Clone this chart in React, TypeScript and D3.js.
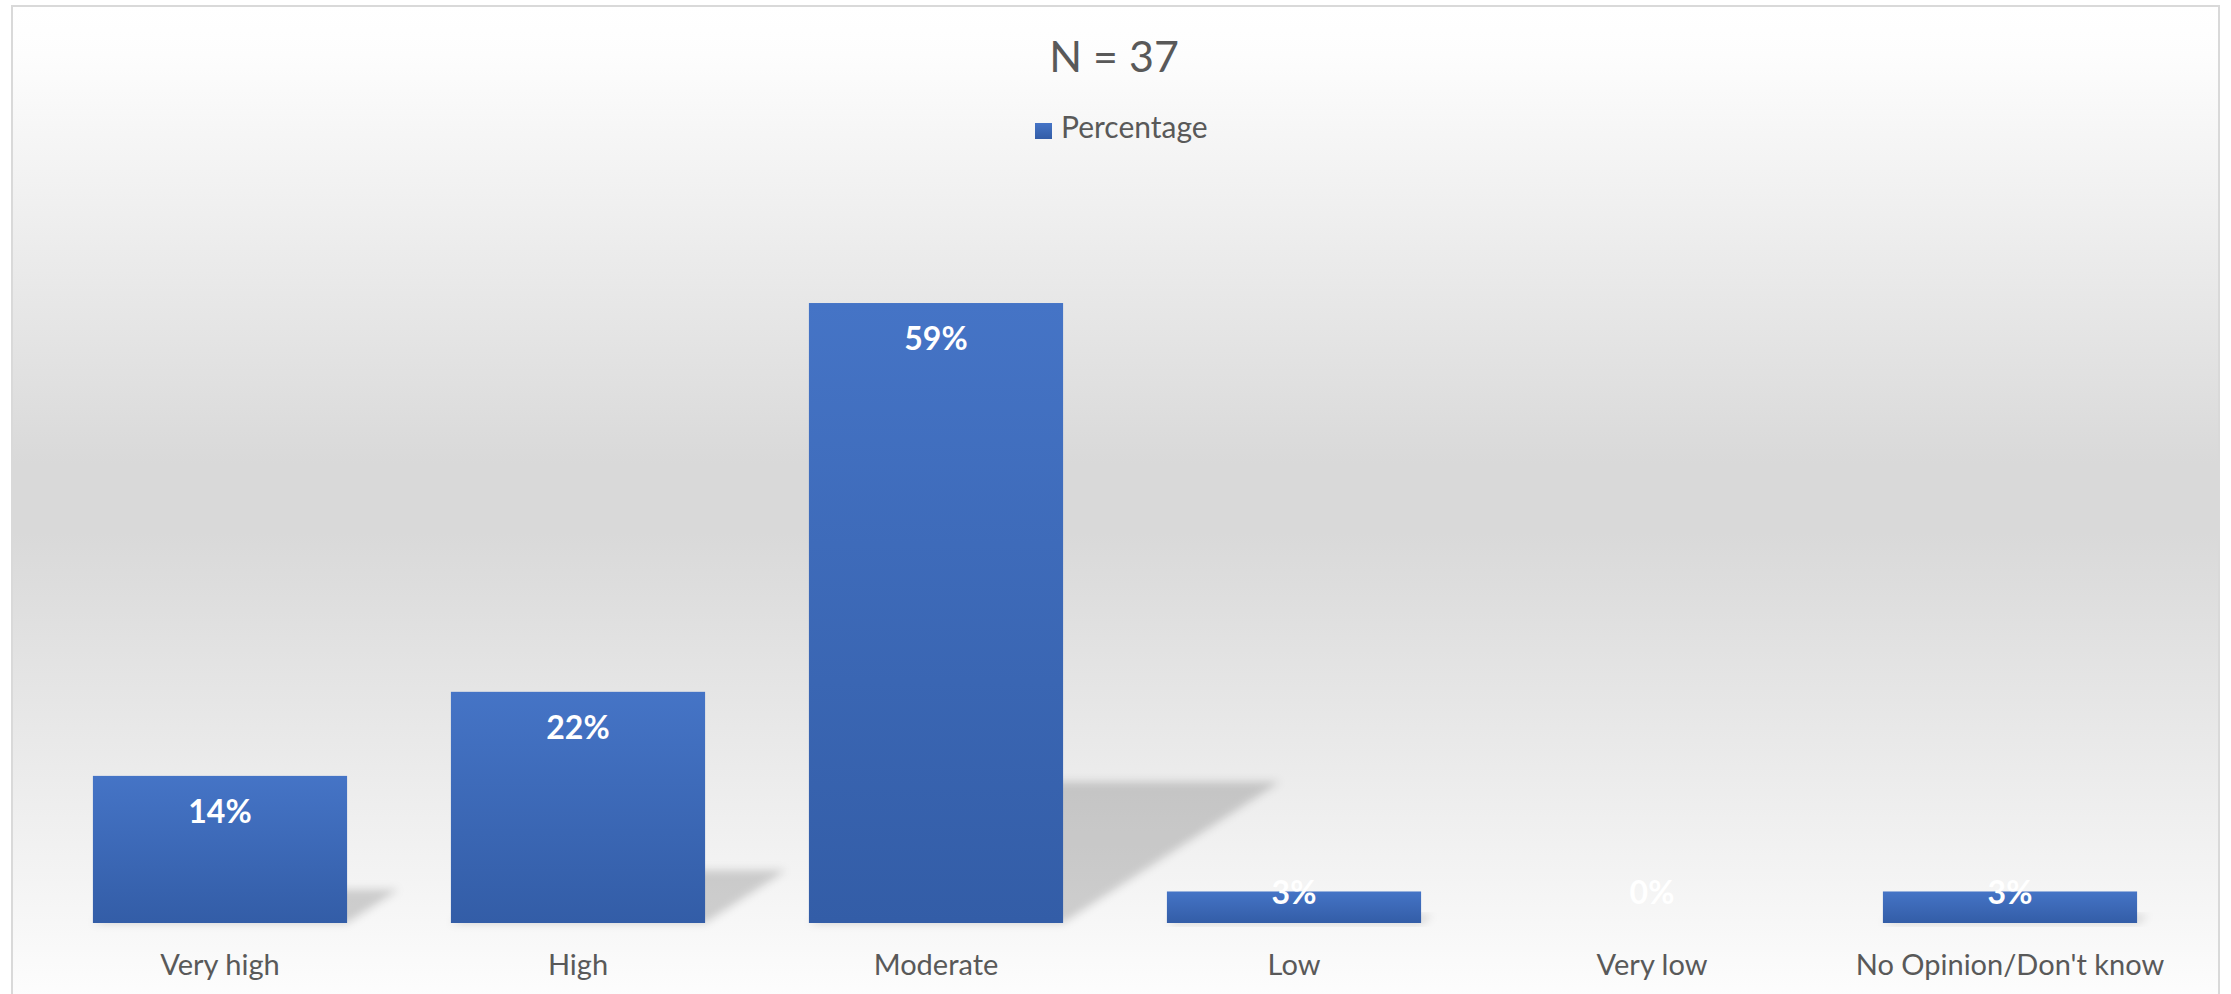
import React from "react";
import * as d3 from "d3";

const categories = ["Very high", "High", "Moderate", "Low", "Very low", "No Opinion/Don't know"];
const percentages = [14, 22, 59, 3, 0, 3];
const seriesName = "Percentage";
const titleText = "N = 37";

const W = 2231;
const H = 994;
const FONT = "Lato, 'Open Sans', sans-serif";

export default function App() {
  const x = d3.scaleBand<string>().domain(categories).range([41, 2189]).paddingInner(0.29).paddingOuter(0.145);
  const y = d3.scaleLinear().domain([0, 70]).range([923, 923 - 70 * 10.508]);
  const base = y(0);

  return (
    <svg
      width={W}
      height={H}
      style={{ position: "absolute", left: 0, top: 0, display: "block" }}
      xmlns="http://www.w3.org/2000/svg"
    >
      <defs>
        <linearGradient id="bg" x1="0" y1="6" x2="0" y2="1000" gradientUnits="userSpaceOnUse">
          <stop offset="0" stopColor="#ffffff" />
          <stop offset="0.05" stopColor="#fdfdfd" />
          <stop offset="0.46" stopColor="#d9d9d9" />
          <stop offset="0.53" stopColor="#d9d9d9" />
          <stop offset="1" stopColor="#fdfdfd" />
        </linearGradient>
        <linearGradient id="barGrad" x1="0" y1="0" x2="0" y2="1">
          <stop offset="0" stopColor="#4574C6" />
          <stop offset="1" stopColor="#335DA7" />
        </linearGradient>
        <filter id="blur" x="-20%" y="-50%" width="140%" height="200%">
          <feGaussianBlur stdDeviation="4" />
        </filter>
      </defs>
      <rect x={0} y={0} width={W} height={H} fill="#ffffff" />
      <rect x={12} y={6} width={2207} height={1010} fill="url(#bg)" stroke="#d9d9d9" strokeWidth={2} />

      <text x={1114} y={72} textAnchor="middle" fontFamily={FONT} fontSize={43} fill="#595959">
        {titleText}
      </text>

      <rect x={1035} y={123} width={17} height={16} fill="url(#barGrad)" />
      <text x={1061} y={138} fontFamily={FONT} fontSize={30} fill="#595959">
        {seriesName}
      </text>

      {/* shadows */}
      {categories.map((c, i) => {
        const v = percentages[i];
        if (v <= 0) return null;
        const bh = base - y(v);
        const sh = bh * 0.228;
        const sk = bh * 0.35;
        const x0 = x(c)!;
        const x1 = x0 + x.bandwidth();
        const pts = [
          [x0, base],
          [x1, base],
          [x1 + sk, base - sh],
          [x0 + sk, base - sh],
        ];
        return (
          <polygon
            key={"s" + c}
            points={pts.map((p) => p.join(",")).join(" ")}
            fill="#000"
            fillOpacity={0.17}
            filter="url(#blur)"
          />
        );
      })}

      {categories.map((c, i) => {
        const v = percentages[i];
        const top = y(v);
        return (
          <rect key={"b" + c} x={x(c)} y={top} width={x.bandwidth()} height={base - top} fill="url(#barGrad)" />
        );
      })}

      {categories.map((c, i) => {
        const v = percentages[i];
        const top = y(v);
        const by = Math.min(top + 47, base - 19);
        return (
          <text
            key={"l" + c}
            x={x(c)! + x.bandwidth() / 2}
            y={by}
            textAnchor="middle"
            fontFamily={FONT}
            fontWeight={700}
            fontSize={32}
            fill="#ffffff"
          >
            {d3.format(".0%")(v / 100)}
          </text>
        );
      })}

      {categories.map((c) => (
        <text
          key={"c" + c}
          x={x(c)! + x.bandwidth() / 2}
          y={975}
          textAnchor="middle"
          fontFamily={FONT}
          fontSize={29}
          fill="#595959"
        >
          {c}
        </text>
      ))}
    </svg>
  );
}
